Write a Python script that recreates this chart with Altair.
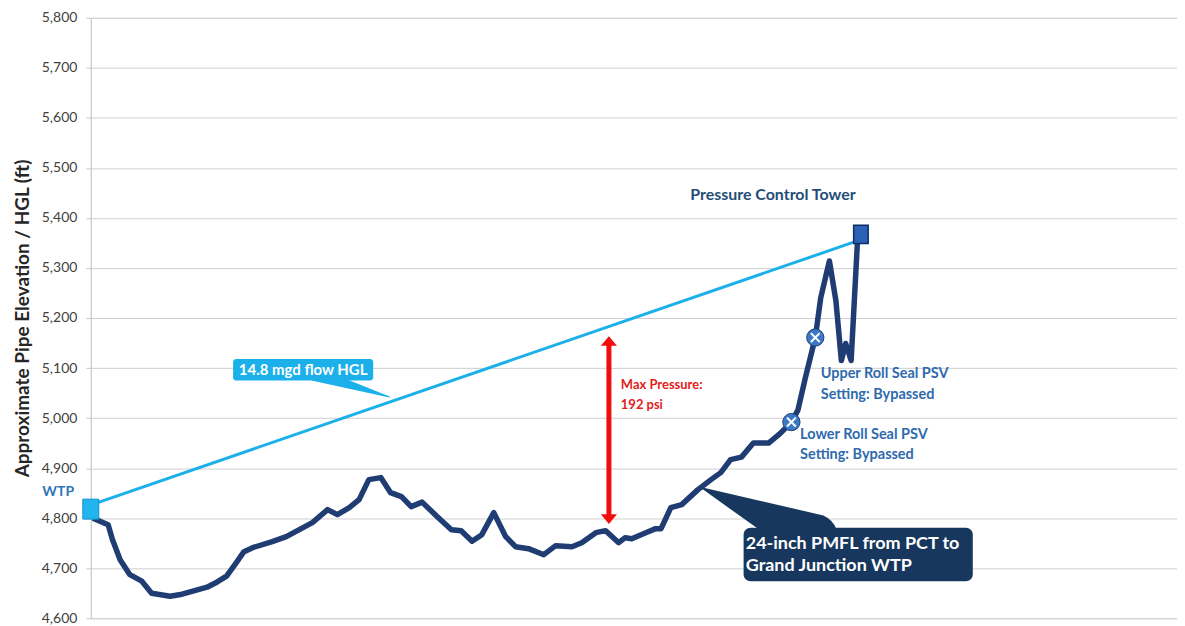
import altair as alt
import pandas as pd

# ---- data (distance in arbitrary station units 0-100, elevation in ft) ----
pipe_dist = [0.2, 1.6, 2.0, 2.7, 3.6, 4.7, 5.6, 7.3, 8.4, 9.4, 10.7, 11.6, 12.5, 13.4, 14.1, 14.9,
             16.7, 18.0, 19.2, 20.4, 21.8, 22.7, 23.8, 24.7, 25.6, 26.7, 27.6, 28.6, 29.5, 30.5,
             31.9, 33.2, 34.1, 35.1, 36.0, 37.1, 38.2, 39.1, 40.3, 41.7, 42.8, 44.3, 45.2, 46.5,
             47.4, 48.6, 49.2, 49.8, 51.1, 52.0, 52.5, 53.4, 54.4, 55.9, 57.1, 58.0, 58.9, 59.9,
             61.0, 62.4, 63.5, 64.5, 65.1, 65.8, 66.7, 67.2, 68.0, 68.6, 69.1, 69.5, 70.0, 70.6]
pipe_elev = [4800, 4787, 4757, 4717, 4687, 4674, 4650, 4644, 4648, 4654, 4662, 4672, 4684, 4711,
             4733, 4741, 4753, 4763, 4777, 4791, 4817, 4807, 4821, 4837, 4877, 4881, 4851, 4843,
             4823, 4832, 4803, 4777, 4775, 4754, 4767, 4811, 4763, 4743, 4739, 4727, 4745, 4743,
             4751, 4771, 4775, 4751, 4761, 4759, 4771, 4779, 4779, 4821, 4827, 4857, 4877, 4891,
             4917, 4922, 4950, 4950, 4970, 4992, 5016, 5082, 5161, 5240, 5314, 5234, 5115, 5149,
             5115, 5360]

hgl_dist = [0.5, 70.3]
hgl_elev = [4830, 5352]

wtp_dist, wtp_elev = [0.0], [4818]
pct_dist, pct_elev = [70.9], [5367]
psv_dist = [64.5, 66.7]
psv_elev = [4992, 5161]

arrow_dist = 47.7
arrow_top, arrow_bottom = 5158, 4794

y_ticks = list(range(4600, 5801, 100))

FONT = "Lato"
X = alt.Scale(domain=[0, 100])
Y = alt.Scale(domain=[4600, 5800])

pipe_df = pd.DataFrame({"d": pipe_dist, "e": pipe_elev})
hgl_df = pd.DataFrame({"d": hgl_dist, "e": hgl_elev})

yaxis = alt.Axis(values=y_ticks, format=",d", title="Approximate Pipe Elevation / HGL (ft)",
                 titleFont=FONT, titleFontSize=19, titleFontWeight="bold", titleColor="#262626",
                 titlePadding=9, labelFont=FONT, labelFontSize=14, labelColor="#404040",
                 labelPadding=9, tickSize=5, tickColor="#c8c8c8", domainColor="#c8c8c8",
                 gridColor="#cfcfcf", grid=True)

pipe = alt.Chart(pipe_df).mark_line(color="#1f3c73", strokeWidth=5.5, strokeJoin="round").encode(
    x=alt.X("d:Q", scale=X, axis=None),
    y=alt.Y("e:Q", scale=Y, axis=yaxis),
)

hgl = alt.Chart(hgl_df).mark_line(color="#1cb0ea", strokeWidth=3).encode(
    x=alt.X("d:Q", scale=X), y=alt.Y("e:Q", scale=Y))

wtp = alt.Chart(pd.DataFrame({"d": wtp_dist, "e": wtp_elev})).mark_point(
    shape="M-0.8,-1L0.8,-1L0.8,1L-0.8,1Z", size=400, filled=True, fill="#22b4ee",
    stroke="#1393cf", strokeWidth=1, opacity=1).encode(
    x=alt.X("d:Q", scale=X), y=alt.Y("e:Q", scale=Y))

pct = alt.Chart(pd.DataFrame({"d": pct_dist, "e": pct_elev})).mark_point(
    shape="M-0.8,-1L0.8,-1L0.8,1L-0.8,1Z", size=330, filled=True, fill="#2b62b5",
    stroke="#0d2d63", strokeWidth=1.5, opacity=1).encode(
    x=alt.X("d:Q", scale=X), y=alt.Y("e:Q", scale=Y))

psv_df = pd.DataFrame({"d": psv_dist, "e": psv_elev})
psv = alt.Chart(psv_df).mark_point(shape="circle", size=300, filled=True, fill="#3b78c6",
                                   stroke="#1f3c73", strokeWidth=1, opacity=1).encode(
    x=alt.X("d:Q", scale=X), y=alt.Y("e:Q", scale=Y))
psv_x = alt.Chart(psv_df).mark_point(shape="M-0.7,-0.7L0.7,0.7M-0.7,0.7L0.7,-0.7", size=160,
                                     filled=False, stroke="white", strokeWidth=2, opacity=1).encode(
    x=alt.X("d:Q", scale=X), y=alt.Y("e:Q", scale=Y))

# red arrow
arrow_rule = alt.Chart(pd.DataFrame({"d": [arrow_dist], "e": [arrow_top - 10], "e2": [arrow_bottom + 10]})).mark_rule(
    color="#f20d0d", strokeWidth=5).encode(
    x=alt.X("d:Q", scale=X), y=alt.Y("e:Q", scale=Y), y2="e2:Q")
arrow_heads = alt.Chart(pd.DataFrame({"d": [arrow_dist, arrow_dist], "e": [arrow_top - 4, arrow_bottom + 4],
                                      "s": ["M-1,0.6L0,-0.6L1,0.6Z", "M-1,-0.6L0,0.6L1,-0.6Z"]})).mark_point(
    size=260, filled=True, fill="#f20d0d", strokeWidth=0, opacity=1).encode(
    x=alt.X("d:Q", scale=X), y=alt.Y("e:Q", scale=Y), shape=alt.Shape("s:N", scale=None))

# callout pointers (trails taper to the tip)
hgl_ptr = alt.Chart(pd.DataFrame({"d": [20.6, 27.5], "e": [5088, 5042], "w": [14, 1]})).mark_trail(
    color="#1cb0ea").encode(x=alt.X("d:Q", scale=X), y=alt.Y("e:Q", scale=Y),
                            size=alt.Size("w:Q", scale=None))
pmfl_ptr = alt.Chart(pd.DataFrame({"d": [66.5, 56.2], "e": [4760, 4861], "w": [50, 1]})).mark_trail(
    color="#17375e").encode(x=alt.X("d:Q", scale=X), y=alt.Y("e:Q", scale=Y),
                            size=alt.Size("w:Q", scale=None))

hgl_box = alt.Chart(pd.DataFrame({"d": [13.1], "d2": [26.0], "e": [5118], "e2": [5075]})).mark_rect(
    color="#1cb0ea", cornerRadius=3).encode(
    x=alt.X("d:Q", scale=X), x2="d2:Q", y=alt.Y("e:Q", scale=Y), y2="e2:Q")
pmfl_box = alt.Chart(pd.DataFrame({"d": [60.1], "d2": [81.2], "e": [4781], "e2": [4674]})).mark_rect(
    color="#17375e", cornerRadius=7).encode(
    x=alt.X("d:Q", scale=X), x2="d2:Q", y=alt.Y("e:Q", scale=Y), y2="e2:Q")


def label(d, e, txt, color, size, align="left"):
    return alt.Chart(pd.DataFrame({"d": d, "e": e, "t": txt})).mark_text(
        font=FONT, fontWeight="bold", fontSize=size, color=color, align=align, baseline="middle").encode(
        x=alt.X("d:Q", scale=X), y=alt.Y("e:Q", scale=Y), text="t:N")


texts = [
    label([-3.0], [4853], ["WTP"], "#2e75b6", 14, "center"),
    label([62.8], [5445], ["Pressure Control Tower"], "#1f4e79", 16, "center"),
    label([19.55], [5096], ["14.8 mgd flow HGL"], "white", 15, "center"),
    label([48.8, 48.8], [5066, 5027], ["Max Pressure:", "192 psi"], "#e3201b", 13),
    label([67.2, 67.2], [5088, 5046], ["Upper Roll Seal PSV", "Setting: Bypassed"], "#2e6aad", 14.5),
    label([65.3, 65.3], [4967, 4927], ["Lower Roll Seal PSV", "Setting: Bypassed"], "#2e6aad", 14.5),
    label([60.3, 60.3], [4748, 4705], ["24-inch PMFL from PCT to", "Grand Junction WTP"], "white", 18),
]

chart = alt.layer(pipe, hgl, hgl_ptr, hgl_box, pmfl_ptr, pmfl_box, arrow_rule, arrow_heads,
                  wtp, pct, psv, psv_x, *texts).properties(
    width=1089, height=602,
    autosize=alt.AutoSizeParams(type="none"),
    padding={"left": 83, "top": 9, "right": 0, "bottom": 6},
).configure_view(stroke=None).configure(background="white")

chart.save("out.html", embed_options={"renderer": "svg", "actions": False})
